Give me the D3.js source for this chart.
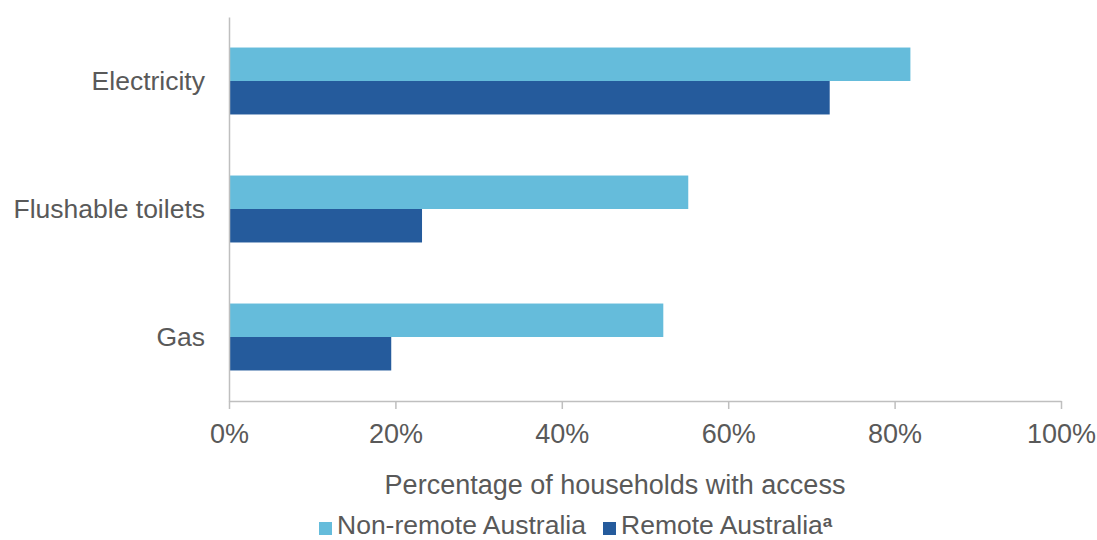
<!DOCTYPE html>
<html>
<head>
<meta charset="utf-8">
<script src="https://cdn.jsdelivr.net/npm/d3@7"></script>
<style>
  html, body { margin: 0; padding: 0; background: #fff; }
  svg text { font-family: "Liberation Sans", Arial, sans-serif; fill: #595959; }
</style>
</head>
<body>
<svg id="chart" width="1097" height="540"></svg>
<script>
// Household access to services, by remoteness
const categories = ["Electricity", "Flushable toilets", "Gas"];
const seriesNames = ["Non-remote Australia", "Remote Australia"];
const nonRemote = [81.9, 55.2, 52.2];
const remote = [72.2, 23.2, 19.5];
const xTicks = [0, 20, 40, 60, 80, 100];
const colors = ["#65BCDB", "#255B9C"];

const FONT = 27;
const svg = d3.select("#chart");
const margin = { left: 229, right: 36, top: 17, bottom: 139 };
const W = 1097, H = 540;

const x = d3.scaleLinear().domain([0, 100]).range([margin.left, W - margin.right]);
const y = d3.scaleBand().domain(categories).range([margin.top, H - margin.bottom]).paddingInner(0.477).paddingOuter(0.2385);
const ySub = d3.scaleBand().domain(seriesNames).range([0, y.bandwidth()]);

const values = [nonRemote, remote];

// bars
categories.forEach((c, i) => {
  seriesNames.forEach((s, j) => {
    svg.append("rect")
      .attr("x", x(0))
      .attr("y", y(c) + ySub(s))
      .attr("width", x(values[j][i]) - x(0))
      .attr("height", ySub.bandwidth())
      .attr("fill", colors[j]);
  });
});

// x axis
const baseY = H - margin.bottom;
const xAxis = svg.append("g").attr("transform", `translate(0,${baseY})`)
  .call(d3.axisBottom(x).tickValues(xTicks).tickFormat(d => d + "%").tickSize(8).tickSizeOuter(0));
xAxis.select(".domain").attr("stroke", "#BFBFBF").attr("stroke-width", 1.5);
xAxis.selectAll(".tick line").attr("stroke", "#BFBFBF").attr("stroke-width", 1.5);
xAxis.selectAll(".tick text").attr("font-size", FONT).attr("dy", null).attr("y", 443 - baseY)
  .style("font-family", "Liberation Sans, Arial, sans-serif").attr("fill", "#595959");

// y axis
const yAxis = svg.append("g").attr("transform", `translate(${x(0)},0)`)
  .call(d3.axisLeft(y).tickSize(0).tickPadding(24));
yAxis.select(".domain").attr("stroke", "#BFBFBF").attr("stroke-width", 1.5);
yAxis.selectAll(".tick text").attr("font-size", 26.5).attr("dy", "0.33em")
  .style("font-family", "Liberation Sans, Arial, sans-serif").attr("fill", "#595959");

// axis title
svg.append("text")
  .attr("x", 615)
  .attr("y", 494)
  .attr("text-anchor", "middle")
  .attr("font-size", FONT)
  .text("Percentage of households with access");

// legend
const legend = [
  { name: seriesNames[0], color: colors[0], x: 319, sup: "" },
  { name: seriesNames[1], color: colors[1], x: 603, sup: "a" }
];
legend.forEach(l => {
  svg.append("rect").attr("x", l.x).attr("y", 522).attr("width", 13).attr("height", 13).attr("fill", l.color);
  const t = svg.append("text").attr("x", l.x + 18).attr("y", 534).attr("font-size", 26.5).text(l.name);
  if (l.sup) {
    t.append("tspan").attr("font-size", 17).attr("font-weight", "bold").attr("dy", -7).text(l.sup);
  }
});
</script>
</body>
</html>
